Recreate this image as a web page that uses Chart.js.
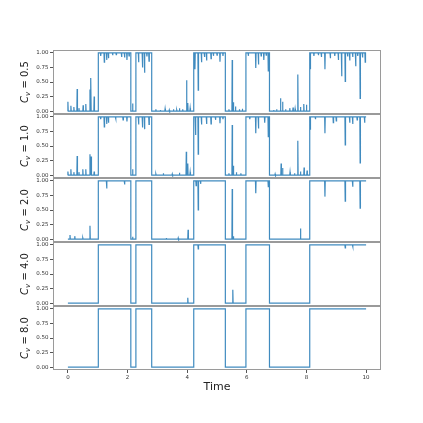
<!DOCTYPE html>
<html>
<head>
<meta charset="utf-8">
<script src="https://cdn.jsdelivr.net/npm/chart.js@4"></script>
<style>
    html, body { margin: 0; padding: 0; background: #fff; }
</style>
</head>
<body>
<canvas id="cvChart" width="423" height="423" style="width:423px;height:423px;display:block"></canvas>
<script>
const cvLabels = ['0.5', '1.0', '2.0', '4.0', '8.0'];
const xTicks = [0, 2, 4, 6, 8, 10];
const yTicks = [0, 0.25, 0.5, 0.75, 1];

// state flips 0 -> 1 -> 0 ... at these times (shared by all panels)
const switchTimes = [1.02, 2.11, 2.28, 2.81, 4.22, 5.28, 5.97, 6.76, 8.11];

const spikeTimes05 = [0.0, 0.1, 0.2, 0.31, 0.37, 0.51, 0.6, 0.74, 0.77, 0.88,
    1.1, 1.22, 1.3, 1.36, 1.5, 1.62, 1.8, 1.9, 1.98, 2.05,
    2.17,
    2.37, 2.5, 2.57, 2.65, 2.72,
    2.95, 3.1, 3.26, 3.4, 3.54, 3.65, 3.74, 3.85, 3.98, 4.02, 4.1,
    4.26, 4.37, 4.48, 4.58, 4.65, 4.8, 4.88, 5.0, 5.1, 5.2,
    5.4, 5.51, 5.55, 5.62, 5.75, 5.85,
    6.05, 6.3, 6.39, 6.48, 6.57, 6.65, 6.72,
    6.9, 7.0, 7.13, 7.2, 7.3, 7.44, 7.55, 7.62, 7.71, 7.8, 7.91, 8.0,
    8.13, 8.25, 8.4, 8.5, 8.62, 8.8, 8.95, 9.07, 9.18, 9.3, 9.38, 9.45, 9.55, 9.65, 9.72, 9.8, 9.88, 9.97];
const spikeValues05 = [0.16, 0.09, 0.07, 0.38, 0.05, 0.1, 0.12, 0.37, 0.57, 0.25,
    0.95, 0.84, 0.88, 0.91, 0.96, 0.97, 0.93, 0.92, 0.88, 0.95,
    0.13,
    0.84, 0.75, 0.66, 0.94, 0.86,
    0.03, 0.02, 0.04, 0.02, 0.03, 0.02, 0.05, 0.03, 0.53, 0.14, 0.05,
    0.72, 0.36, 0.84, 0.93, 0.87, 0.9, 0.95, 0.96, 0.85, 0.95,
    0.03, 0.88, 0.15, 0.08, 0.03, 0.04,
    0.95, 0.74, 0.8, 0.95, 0.88, 0.96, 0.69,
    0.02, 0.03, 0.22, 0.16, 0.03, 0.05, 0.06, 0.04, 0.63, 0.07, 0.12, 0.11,
    0.72, 0.95, 0.96, 0.93, 0.72, 0.91, 0.95, 0.88, 0.6, 0.51, 0.94, 0.87, 0.93, 0.77, 0.95, 0.22, 0.92, 0.84];

const spikeTimes10 = [0.0, 0.1, 0.2, 0.31, 0.37, 0.5, 0.6, 0.74, 0.78, 0.88,
    1.1, 1.22, 1.3, 1.36, 1.6, 1.85, 1.98,
    2.17,
    2.37, 2.5, 2.57, 2.72,
    2.95, 3.2, 3.5, 3.74, 3.97, 4.02, 4.1,
    4.28, 4.37, 4.48, 4.65, 4.8, 4.95, 5.1, 5.2,
    5.4, 5.51, 5.55, 5.65, 5.8,
    6.1, 6.3, 6.39, 6.6, 6.72,
    6.95, 7.15, 7.2, 7.45, 7.6, 7.71, 7.8, 7.92, 8.02,
    8.13, 8.3, 8.62, 8.9, 9.0, 9.3, 9.45, 9.55, 9.7, 9.8, 9.95];
const spikeValues10 = [0.06, 0.1, 0.05, 0.33, 0.05, 0.1, 0.1, 0.36, 0.32, 0.06,
    0.96, 0.83, 0.88, 0.9, 0.97, 0.95, 0.92,
    0.1,
    0.87, 0.82, 0.79, 0.87,
    0.02, 0.03, 0.02, 0.04, 0.4, 0.2, 0.05,
    0.69, 0.36, 0.87, 0.88, 0.88, 0.95, 0.89, 0.96,
    0.03, 0.86, 0.16, 0.05, 0.03,
    0.96, 0.72, 0.8, 0.9, 0.66,
    0.02, 0.2, 0.12, 0.05, 0.03, 0.59, 0.06, 0.13, 0.08,
    0.78, 0.96, 0.72, 0.9, 0.93, 0.52, 0.9, 0.88, 0.95, 0.21, 0.9];

const spikeTimes20 = [0.07, 0.23, 0.5, 0.74, 1.3, 1.9, 2.17, 3.3, 3.7, 4.03,
    4.3, 4.37, 4.45, 5.51, 5.55, 6.3, 6.72, 7.8, 8.62, 9.3, 9.55, 9.8];
const spikeValues20 = [0.07, 0.05, 0.02, 0.23, 0.87, 0.94, 0.04, 0.02, 0.02, 0.16,
    0.92, 0.5, 0.95, 0.86, 0.05, 0.79, 0.9, 0.18, 0.73, 0.65, 0.9, 0.53];

const spikeTimes40 = [4.02, 4.37, 5.53, 9.3, 9.55];
const spikeValues40 = [0.09, 0.93, 0.23, 0.95, 0.97];

const spikeTimes80 = [];
const spikeValues80 = [];

const panelSpikes = [
    [spikeTimes05, spikeValues05],
    [spikeTimes10, spikeValues10],
    [spikeTimes20, spikeValues20],
    [spikeTimes40, spikeValues40],
    [spikeTimes80, spikeValues80]
];

function buildSeries(times, values) {
    const events = switchTimes.map(t => ({ t: t, sw: true }));
    times.forEach((t, i) => events.push({ t: t, sw: false, v: values[i] }));
    events.sort((a, b) => a.t - b.t);
    const pts = [{ x: 0, y: 0 }];
    let state = 0;
    events.forEach(e => {
        if (e.sw) {
            pts.push({ x: e.t, y: state });
            state = 1 - state;
            pts.push({ x: e.t, y: state });
        } else {
            pts.push({ x: Math.max(0, e.t - 0.01), y: state });
            pts.push({ x: e.t, y: e.v });
            pts.push({ x: e.t + 0.01, y: state });
        }
    });
    pts.push({ x: 10, y: state });
    return pts;
}

function drawCvLabel(ctx, cx, cy, value) {
    ctx.save();
    ctx.translate(cx, cy);
    ctx.rotate(-Math.PI / 2);
    ctx.fillStyle = '#222';
    ctx.textBaseline = 'middle';
    ctx.textAlign = 'left';
    const fMain = '10px "DejaVu Sans"';
    const fItal = 'italic 10px "DejaVu Sans"';
    const fSub = 'italic 7px "DejaVu Sans"';
    const rest = ' = ' + value;
    ctx.font = fItal;
    const wC = ctx.measureText('C').width;
    ctx.font = fSub;
    const wV = ctx.measureText('v').width;
    ctx.font = fMain;
    const wR = ctx.measureText(rest).width;
    let x = -(wC + wV + wR) / 2;
    ctx.font = fItal;
    ctx.fillText('C', x, 0);
    x += wC;
    ctx.font = fSub;
    ctx.fillText('v', x, 3);
    x += wV;
    ctx.font = fMain;
    ctx.fillText(rest, x, 0);
    ctx.restore();
}

const panelPlugin = {
    id: 'panels',
    afterDraw(chart) {
        const { ctx, chartArea } = chart;
        ctx.save();
        ctx.strokeStyle = '#9a9a9a';
        ctx.lineWidth = 1;
        cvLabels.forEach((cv, i) => {
            const s = chart.scales['y' + i];
            ctx.strokeRect(chartArea.left + 0.5, s.top + 0.5,
                chartArea.right - chartArea.left - 1, s.bottom - s.top - 1);
            drawCvLabel(ctx, 25, (s.top + s.bottom) / 2, cv);
        });
        ctx.restore();
    }
};

const datasets = cvLabels.map((cv, i) => ({
    label: 'Cv = ' + cv,
    data: buildSeries(panelSpikes[i][0], panelSpikes[i][1]),
    yAxisID: 'y' + i,
    borderColor: 'rgba(31, 119, 180, 0.85)',
    borderWidth: 1.2,
    pointRadius: 0,
    tension: 0,
    fill: false
}));

const scales = {
    x: {
        type: 'linear',
        min: -0.5,
        max: 10.5,
        afterBuildTicks: scale => { scale.ticks = xTicks.map(v => ({ value: v })); },
        afterFit: scale => { scale.height = 24; },
        grid: { drawOnChartArea: false, drawTicks: true, tickLength: 3, color: '#555' },
        border: { display: false },
        ticks: {
            autoSkip: false,
            padding: 1,
            maxRotation: 0,
            color: '#333',
            font: { family: 'DejaVu Sans', size: 5.5 },
            callback: v => String(v)
        },
        title: {
            display: true,
            text: 'Time',
            color: '#222',
            padding: { top: 0, bottom: 0 },
            font: { family: 'DejaVu Sans', size: 11 }
        }
    }
};
cvLabels.forEach((cv, i) => {
    scales['y' + i] = {
        type: 'linear',
        position: 'left',
        stack: 'cv',
        stackWeight: 1,
        weight: cvLabels.length - i,
        min: -0.05,
        max: 1.05,
        afterBuildTicks: scale => { scale.ticks = yTicks.map(v => ({ value: v })); },
        afterFit: scale => { scale.width = 53; },
        grid: { drawOnChartArea: false, drawTicks: true, tickLength: 3, color: '#555' },
        border: { display: false },
        ticks: {
            autoSkip: false,
            padding: 1.5,
            color: '#333',
            font: { family: 'DejaVu Sans', size: 5.5 },
            callback: v => v.toFixed(2)
        }
    };
});

new Chart(document.getElementById('cvChart'), {
    type: 'line',
    data: { datasets: datasets },
    options: {
        responsive: false,
        animation: false,
        events: [],
        layout: { padding: { left: 0, right: 42, top: 50, bottom: 29 } },
        plugins: {
            legend: { display: false },
            tooltip: { enabled: false }
        },
        scales: scales
    },
    plugins: [panelPlugin]
});
</script>
</body>
</html>
